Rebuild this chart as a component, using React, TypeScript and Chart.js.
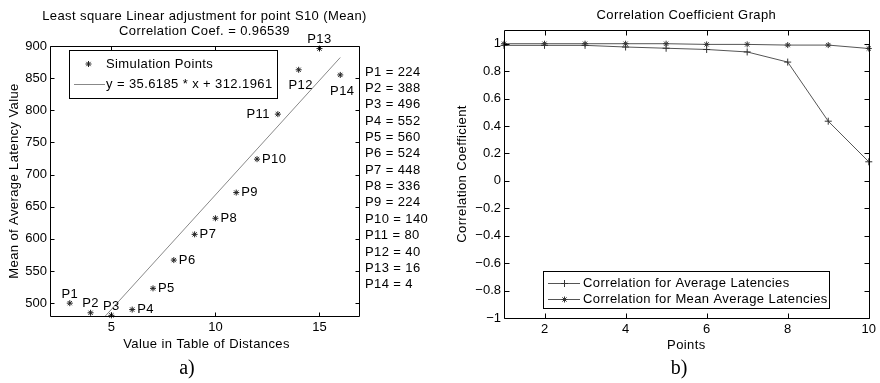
import React, { useEffect, useRef } from "react";
import { Chart, registerables } from "chart.js";

Chart.register(...registerables);

const FONT = "'Liberation Sans', Arial, Helvetica, sans-serif";

// ---------- Left chart data ----------
const pointNames = ["P1", "P2", "P3", "P4", "P5", "P6", "P7", "P8", "P9", "P10", "P11", "P12", "P13", "P14"];
const distanceValues = [3, 4, 5, 6, 7, 8, 9, 10, 11, 12, 13, 14, 15, 16];
const meanLatencyValues = [500, 485, 481, 490, 523, 567, 607, 632, 672, 724, 794, 863, 896, 855];
const tableValues = [224, 388, 496, 552, 560, 524, 448, 336, 224, 140, 80, 40, 16, 4];
const fitLineX = [3, 16];
const fitLineY = [419.05, 882.09];
const leftXTicks = [5, 10, 15];
const leftYTicks = [500, 550, 600, 650, 700, 750, 800, 850, 900];
const labelSides = ["above", "above", "above", "right", "right", "right", "right", "right", "right", "right", "left", "below", "above", "below"];

// ---------- Right chart data ----------
const pointIndex = [1, 2, 3, 4, 5, 6, 7, 8, 9, 10];
const corrAverage = [0.988, 0.988, 0.988, 0.976, 0.967, 0.958, 0.94, 0.866, 0.435, 0.139];
const corrMeanAverage = [1.0, 1.0, 1.0, 1.0, 1.0, 0.995, 0.995, 0.99, 0.99, 0.965];
const rightXTicks = [2, 4, 6, 8, 10];
const rightYTicks = [-1, -0.8, -0.6, -0.4, -0.2, 0, 0.2, 0.4, 0.6, 0.8, 1];

function setFont(ctx: CanvasRenderingContext2D, size: number, spacing = "0.4px") {
  ctx.font = `${size}px ${FONT}`;
  (ctx as any).letterSpacing = spacing;
}

function drawFrame(ctx: CanvasRenderingContext2D, area: any, xs: any, ys: any, xt: number[], yt: number[], len: number) {
  const { left, top, right, bottom } = area;
  const l = Math.round(left) + 0.5, t = Math.round(top) + 0.5, r = Math.round(right) + 0.5, b = Math.round(bottom) + 0.5;
  ctx.strokeStyle = "#000";
  ctx.lineWidth = 1;
  ctx.beginPath();
  ctx.rect(l, t, r - l, b - t);
  xt.forEach((v) => {
    const p = Math.round(xs.getPixelForValue(v)) + 0.5;
    ctx.moveTo(p, b); ctx.lineTo(p, b - len);
    ctx.moveTo(p, t); ctx.lineTo(p, t + len);
  });
  yt.forEach((v) => {
    const p = Math.round(ys.getPixelForValue(v)) + 0.5;
    ctx.moveTo(l, p); ctx.lineTo(l + len, p);
    ctx.moveTo(r, p); ctx.lineTo(r - len, p);
  });
  ctx.stroke();
}

function drawStar(ctx: CanvasRenderingContext2D, x: number, y: number, r: number) {
  const d = r * Math.SQRT1_2;
  ctx.beginPath();
  ctx.moveTo(x - r, y); ctx.lineTo(x + r, y);
  ctx.moveTo(x, y - r); ctx.lineTo(x, y + r);
  ctx.moveTo(x - d, y - d); ctx.lineTo(x + d, y + d);
  ctx.moveTo(x - d, y + d); ctx.lineTo(x + d, y - d);
  ctx.stroke();
}

function drawCross(ctx: CanvasRenderingContext2D, x: number, y: number, r: number) {
  ctx.beginPath();
  ctx.moveTo(x - r, y); ctx.lineTo(x + r, y);
  ctx.moveTo(x, y - r); ctx.lineTo(x, y + r);
  ctx.stroke();
}

const fixedTicks = (vals: number[]) => (scale: any) => {
  scale.ticks = vals.map((v) => ({ value: v }));
};

const leftPlugin = {
  id: "leftDecor",
  afterDraw(chart: any) {
    const ctx: CanvasRenderingContext2D = chart.ctx;
    const area = chart.chartArea;
    const { left, top, right, bottom } = area;
    const xs = chart.scales.x, ys = chart.scales.y;
    ctx.save();
    drawFrame(ctx, area, xs, ys, leftXTicks, leftYTicks, 4);

    setFont(ctx, 13);
    ctx.fillStyle = "#000";
    ctx.textBaseline = "middle";
    pointNames.forEach((name, i) => {
      const px = xs.getPixelForValue(distanceValues[i]);
      const py = ys.getPixelForValue(meanLatencyValues[i]);
      const side = labelSides[i];
      if (side === "above") { ctx.textAlign = "center"; ctx.fillText(name, px, py - 9); }
      else if (side === "below") { ctx.textAlign = "center"; ctx.fillText(name, px + 2, py + 16); }
      else if (side === "left") { ctx.textAlign = "right"; ctx.fillText(name, px - 8, py); }
      else { ctx.textAlign = "left"; ctx.fillText(name, px + 5, py); }
    });

    const cx = (left + right) / 2;
    ctx.textAlign = "center";
    ctx.fillText("Least square Linear adjustment for point S10 (Mean)", cx, 16);
    ctx.fillText("Correlation Coef. = 0.96539", cx, 31);
    ctx.fillText("Value in Table of Distances", cx + 2, 344);
    ctx.save();
    ctx.translate(14, (top + bottom) / 2);
    ctx.rotate(-Math.PI / 2);
    ctx.fillText("Mean of Average Latency Value", 0, 0);
    ctx.restore();

    ctx.textAlign = "left";
    tableValues.forEach((v, i) => {
      ctx.fillText(`${pointNames[i]} = ${v}`, right + 6, 72 + i * 16.36);
    });

    // legend
    ctx.fillStyle = "#fff";
    ctx.fillRect(69.5, 50.5, 208, 48);
    ctx.strokeStyle = "#000";
    ctx.strokeRect(69.5, 50.5, 208, 48);
    ctx.strokeStyle = "#222";
    drawStar(ctx, 88.5, 64, 3);
    ctx.strokeStyle = "#888";
    ctx.beginPath();
    ctx.moveTo(74, 84.5); ctx.lineTo(105, 84.5);
    ctx.stroke();
    ctx.fillStyle = "#000";
    ctx.fillText("Simulation Points", 106, 64);
    ctx.fillText("y = 35.6185 * x + 312.1961", 106, 84);
    ctx.restore();
  },
};

const rightPlugin = {
  id: "rightDecor",
  afterDraw(chart: any) {
    const ctx: CanvasRenderingContext2D = chart.ctx;
    const area = chart.chartArea;
    const { left, top, right, bottom } = area;
    const xs = chart.scales.x, ys = chart.scales.y;
    ctx.save();
    drawFrame(ctx, area, xs, ys, rightXTicks, rightYTicks, 5);

    setFont(ctx, 13);
    ctx.fillStyle = "#000";
    ctx.textBaseline = "middle";
    ctx.textAlign = "center";
    const cx = (left + right) / 2;
    ctx.fillText("Correlation Coefficient Graph", cx, 15);
    ctx.fillText("Points", cx, 345);
    ctx.save();
    ctx.translate(22, (top + bottom) / 2);
    ctx.rotate(-Math.PI / 2);
    ctx.fillText("Correlation Coefficient", 0, 0);
    ctx.restore();

    // legend
    ctx.fillStyle = "#fff";
    ctx.fillRect(103.5, 271.5, 286, 37);
    ctx.strokeStyle = "#000";
    ctx.strokeRect(103.5, 271.5, 286, 37);
    ctx.strokeStyle = "#555";
    ctx.beginPath();
    ctx.moveTo(108, 283.5); ctx.lineTo(140, 283.5);
    ctx.moveTo(108, 299.5); ctx.lineTo(140, 299.5);
    ctx.stroke();
    ctx.strokeStyle = "#333";
    drawCross(ctx, 124.5, 283.5, 3.5);
    drawStar(ctx, 124.5, 299.5, 3);
    ctx.fillStyle = "#000";
    ctx.textAlign = "left";
    ctx.fillText("Correlation for Average Latencies", 143, 283);
    ctx.fillText("Correlation for Mean Average Latencies", 143, 299);
    ctx.restore();
  },
};

const tickFont = { family: FONT, size: 13 };

function makeAxis(min: number, max: number, ticks: number[], fit: (s: any) => void, padding: number, fmt?: (v: number) => string) {
  return {
    type: "linear" as const,
    min,
    max,
    grid: { display: false, drawTicks: false },
    border: { display: false },
    ticks: {
      color: "#000",
      font: tickFont,
      padding,
      autoSkip: false,
      maxRotation: 0,
      callback: (v: any) => (fmt ? fmt(Number(v)) : String(v)),
    },
    afterBuildTicks: fixedTicks(ticks),
    afterFit: fit,
  };
}

export default function App() {
  const leftRef = useRef<HTMLCanvasElement>(null);
  const rightRef = useRef<HTMLCanvasElement>(null);

  useEffect(() => {
    const left = new Chart(leftRef.current!, {
      type: "scatter",
      data: {
        datasets: [
          {
            label: "Simulation Points",
            data: distanceValues.map((x, i) => ({ x, y: meanLatencyValues[i] })),
            pointStyle: "star",
            pointRadius: 3,
            pointBorderColor: "#222",
            pointBackgroundColor: "#222",
            pointBorderWidth: 1,
            showLine: false,
            clip: false,
          },
          {
            label: "Fit",
            data: fitLineX.map((x, i) => ({ x, y: fitLineY[i] })),
            showLine: true,
            pointRadius: 0,
            borderColor: "#888",
            borderWidth: 1,
          },
        ],
      },
      options: {
        animation: false,
        responsive: false,
        events: [],
        layout: { padding: { top: 46, right: 81, left: 0, bottom: 0 } },
        plugins: { legend: { display: false }, tooltip: { enabled: false } },
        scales: {
          x: makeAxis(2.05, 16.9, leftXTicks, (s) => { s.height = 67; }, 4),
          y: makeAxis(480, 900, leftYTicks, (s) => { s.width = 50; }, 3),
        },
      },
      plugins: [leftPlugin],
    });

    const fmtR = (v: number) => {
      const s = Number.isInteger(v) ? String(v) : v.toFixed(1);
      return s.replace("-", "\u2212");
    };
    const right = new Chart(rightRef.current!, {
      type: "scatter",
      data: {
        datasets: [
          {
            label: "Correlation for Average Latencies",
            data: pointIndex.map((x, i) => ({ x, y: corrAverage[i] })),
            showLine: true,
            borderColor: "#555",
            borderWidth: 1,
            pointStyle: "cross",
            pointRadius: 3.5,
            pointBorderColor: "#333",
            pointBorderWidth: 1,
            clip: false,
          },
          {
            label: "Correlation for Mean Average Latencies",
            data: pointIndex.map((x, i) => ({ x, y: corrMeanAverage[i] })),
            showLine: true,
            borderColor: "#555",
            borderWidth: 1,
            pointStyle: "star",
            pointRadius: 3,
            pointBorderColor: "#333",
            pointBorderWidth: 1,
            clip: false,
          },
        ],
      },
      options: {
        animation: false,
        responsive: false,
        events: [],
        layout: { padding: { top: 30, right: 10.7, left: 0, bottom: 0 } },
        plugins: { legend: { display: false }, tooltip: { enabled: false } },
        scales: {
          x: makeAxis(1, 10, rightXTicks, (s) => { s.height = 65; }, 4),
          y: makeAxis(-1, 1.1, rightYTicks, (s) => { s.width = 64; }, 3, fmtR),
        },
      },
      plugins: [rightPlugin],
    });

    return () => {
      left.destroy();
      right.destroy();
    };
  }, []);

  const caption: React.CSSProperties = {
    position: "absolute",
    top: 355,
    fontFamily: "'Liberation Serif', 'DejaVu Serif', serif",
    fontSize: 20,
    lineHeight: "24px",
    color: "#000",
    width: 40,
    textAlign: "center",
  };

  return (
    <div style={{ position: "absolute", left: 0, top: 0, width: 880, height: 383, background: "#fff" }}>
      <canvas ref={leftRef} width={440} height={383} style={{ position: "absolute", left: 0, top: 0 }} />
      <canvas ref={rightRef} width={440} height={383} style={{ position: "absolute", left: 440, top: 0 }} />
      <div style={{ ...caption, left: 167 }}>a)</div>
      <div style={{ ...caption, left: 659 }}>b)</div>
    </div>
  );
}
